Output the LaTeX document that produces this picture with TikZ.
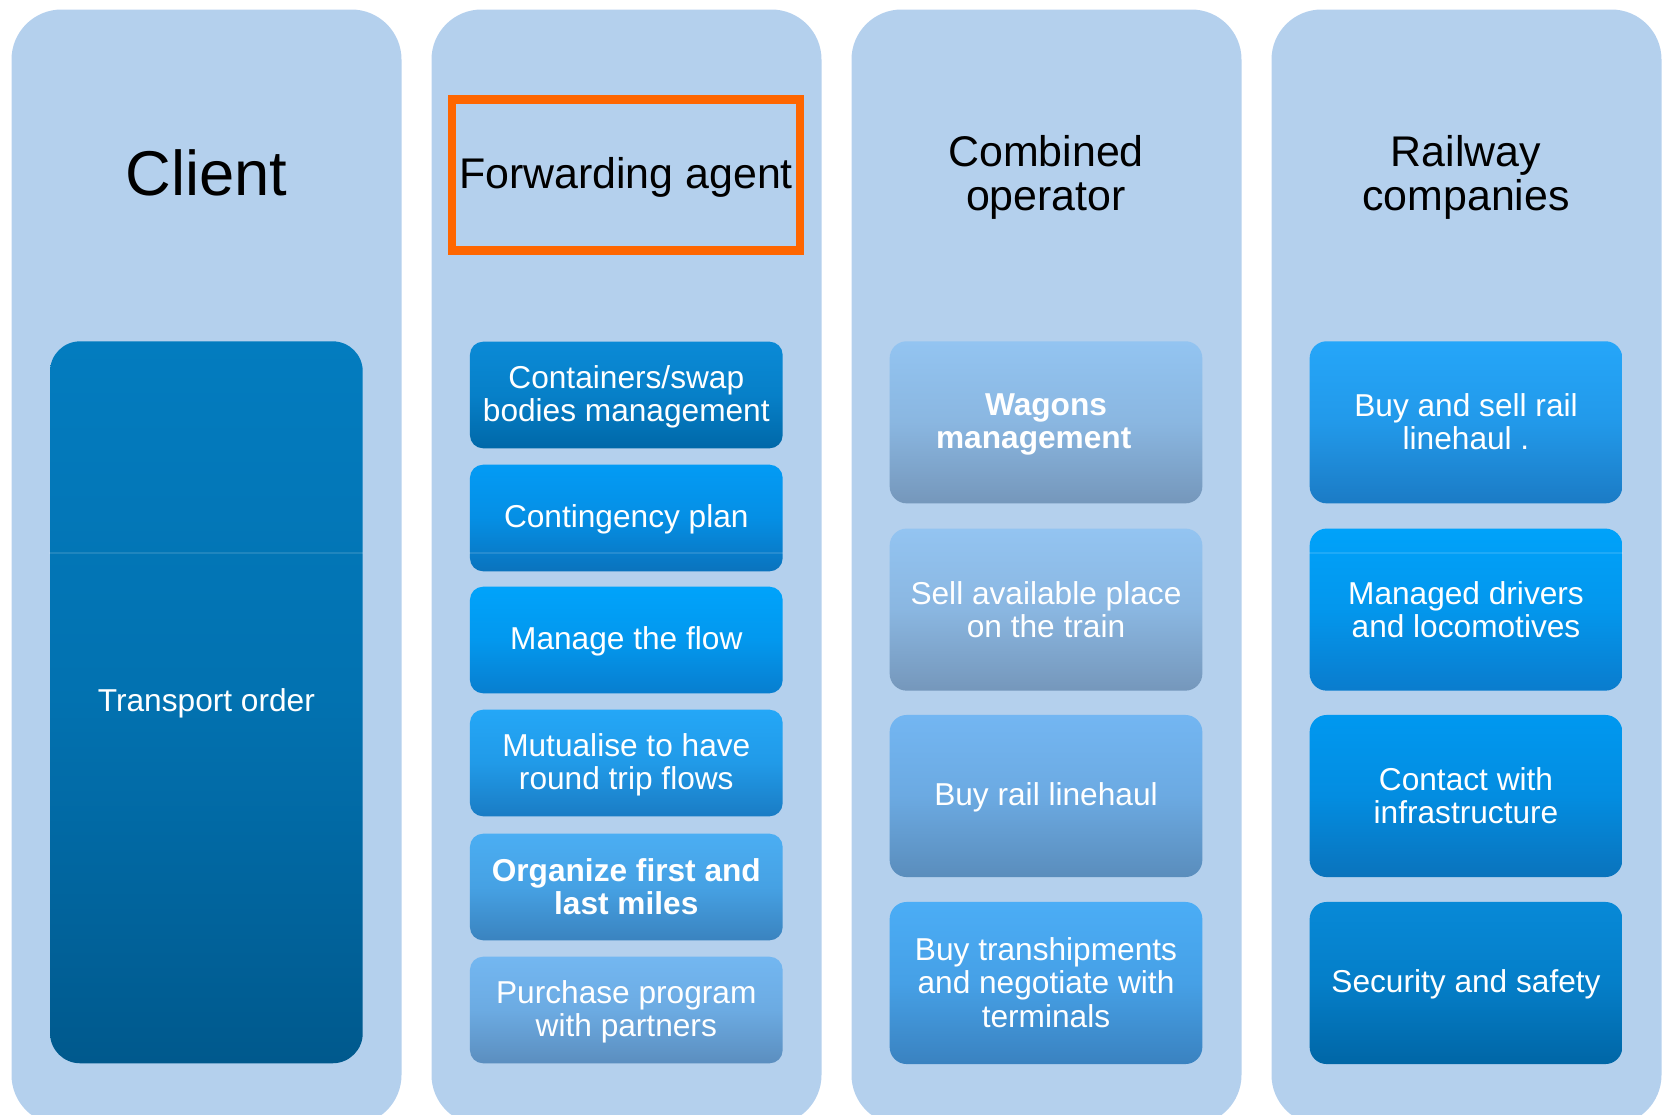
\documentclass[tikz,border=0pt]{standalone}
\usepackage{fontspec}
\setmainfont{Liberation Sans}
% strut that gives every line the same height and depth
\newcommand\sr{\rule[-0.127em]{0pt}{0.947em}}
\definecolor{lanebg}{HTML}{B4D0ED}
\definecolor{frameorange}{HTML}{FF6600}
% tile gradients: top and bottom colours
\definecolor{clientT}{HTML}{037CBF}\definecolor{clientB}{HTML}{00598D}
\definecolor{faT}{HTML}{0A8AD6}\definecolor{faB}{HTML}{0068A8}
\definecolor{fbT}{HTML}{039BF5}\definecolor{fbB}{HTML}{0A73BD}
\definecolor{fcT}{HTML}{00A3FB}\definecolor{fcB}{HTML}{087ECF}
\definecolor{fdT}{HTML}{24A7F7}\definecolor{fdB}{HTML}{1A7CC4}
\definecolor{feT}{HTML}{4BAEF3}\definecolor{feB}{HTML}{3A83BF}
\definecolor{ffT}{HTML}{73B7F1}\definecolor{ffB}{HTML}{5B8EBF}
\definecolor{caT}{HTML}{93C4F1}\definecolor{caB}{HTML}{7597BB}
\definecolor{ccT}{HTML}{73B6F2}\definecolor{ccB}{HTML}{5A8DBC}
\definecolor{cdT}{HTML}{4BADF6}\definecolor{cdB}{HTML}{3A82C0}
\definecolor{raT}{HTML}{25A6F9}\definecolor{raB}{HTML}{1B7BC5}
\definecolor{rbT}{HTML}{00A2FA}\definecolor{rbB}{HTML}{0A7CCD}
\definecolor{rcT}{HTML}{0098F0}\definecolor{rcB}{HTML}{0A73BC}
\definecolor{rdT}{HTML}{0789D7}\definecolor{rdB}{HTML}{0066A6}
\begin{document}
\begin{tikzpicture}[x=0.01cm,y=-0.01cm,
  lane/.style={fill=lanebg, rounded corners=5mm},
  heading/.style={text=black, inner sep=0pt, align=center,
    font=\fontsize{12.2}{12.6}\selectfont},
  tile/.style 2 args={draw=none, top color=#1, bottom color=#2,
    middle color=#1!70!#2, text=white, inner sep=0pt, align=center,
    minimum width=3.125cm, font=\fontsize{9}{9.4}\selectfont},
  short/.style={rounded corners=1.3mm, minimum height=1.065cm},
  tall/.style={rounded corners=1.7mm, minimum height=1.62cm},
  seam/.style={draw=white, draw opacity=0.12, line width=0.3pt}
]
\useasboundingbox (0,0) rectangle (1663,1115);
\clip (0,0) rectangle (1663,1115);

% lanes
\fill[lane] (11.5,9.5)   rectangle (401.5,1125);
\fill[lane] (431.5,9.5)  rectangle (821.5,1125);
\fill[lane] (851.5,9.5)  rectangle (1241.5,1125);
\fill[lane] (1271.5,9.5) rectangle (1661.5,1125);

% headings
\node[heading, font=\fontsize{18}{19}\selectfont] (hclient) at (206.5,174) {\sr Client};
\node[heading, draw=frameorange, line width=2.28pt, minimum width=3.476cm,
      minimum height=1.509cm] (hagent) at (626,175) {\sr Forwarding agent};
\node[heading] (hcomb) at (1046,175.5) {\sr Combined\\\sr operator};
\node[heading] (hrail) at (1466,175.5) {\sr Railway\\\sr companies};

% client
\node[tile={clientT}{clientB}, rounded corners=3mm, minimum height=7.215cm]
  (order) at (206.4,702.3) {\sr Transport order};
\draw[seam] (order.west |- 0,553) -- (order.east |- 0,553);

% forwarding agent
\node[tile={faT}{faB}, short] (f1) at (626.3,395) {\sr Containers/swap\\\sr bodies management};
\node[tile={fbT}{fbB}, short] (f2) at (626.3,518) {\sr Contingency plan};
\node[tile={fcT}{fcB}, short] (f3) at (626.3,640) {\sr Manage the flow};
\node[tile={fdT}{fdB}, short] (f4) at (626.3,763) {\sr Mutualise to have\\\sr round trip flows};
\node[tile={feT}{feB}, short, font=\fontsize{9}{9.4}\selectfont\bfseries]
  (f5) at (626.3,887) {\sr Organize first and\\\sr last miles};
\node[tile={ffT}{ffB}, short] (f6) at (626.3,1010) {\sr Purchase program\\\sr with partners};
\draw[seam] (f2.west |- 0,553) -- (f2.east |- 0,553);

% combined operator
\node[tile={caT}{caB}, tall, font=\fontsize{9}{9.4}\selectfont\bfseries]
  (c1) at (1046,422.3) {\sr Wagons\\\sr management\kern7pt};
\node[tile={caT}{caB}, tall] (c2) at (1046,609.6) {\sr Sell available place\\\sr on the train};
\node[tile={ccT}{ccB}, tall] (c3) at (1046,796) {\sr Buy rail linehaul};
\node[tile={cdT}{cdB}, tall] (c4) at (1046,983) {\sr Buy transhipments\\\sr and negotiate with\\\sr terminals};

% railway companies
\node[tile={raT}{raB}, tall] (r1) at (1466,422.3) {\sr Buy and sell rail\\\sr linehaul .};
\node[tile={rbT}{rbB}, tall] (r2) at (1466,609.6) {\sr Managed drivers\\\sr and locomotives};
\node[tile={rcT}{rcB}, tall] (r3) at (1466,796) {\sr Contact with\\\sr infrastructure};
\node[tile={rdT}{rdB}, tall] (r4) at (1466,983) {\sr Security and safety};
\draw[seam] (r2.west |- 0,553) -- (r2.east |- 0,553);
\end{tikzpicture}
\end{document}
